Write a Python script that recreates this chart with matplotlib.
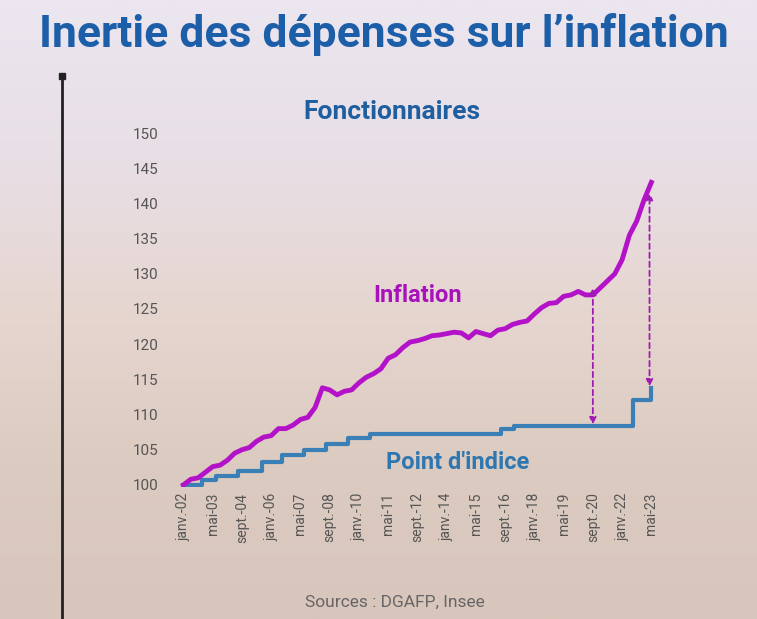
import matplotlib
matplotlib.use("Agg")
import matplotlib.pyplot as plt
import numpy as np
from matplotlib.colors import LinearSegmentedColormap

plt.rcParams['font.family'] = ['Roboto', 'DejaVu Sans']

tick_labels = ["janv.-02","mai-03","sept.-04","janv.-06","mai-07","sept.-08","janv.-10","mai-11",
               "sept.-12","janv.-14","mai-15","sept.-16","janv.-18","mai-19","sept.-20","janv.-22","mai-23"]
tick_months = [0,16,32,48,64,80,96,112,128,144,160,176,192,208,224,240,256]

# Inflation index, every 4 months from janv.-02
infl_months = list(range(0, 257, 4))
inflation = [100,100.8,101.0, 101.8,102.6,102.8, 103.5,104.5,105.0, 105.3,106.2,106.8,
             107.0,108.0,108.0, 108.5,109.3,109.6, 111.0,113.8,113.5, 112.8,113.3,113.5,
             114.5,115.3,115.8, 116.5,118.0,118.5, 119.5,120.3,120.5, 120.8,121.2,121.3,
             121.5,121.7,121.6, 120.9,121.8,121.5, 121.2,122.0,122.2, 122.8,123.1,123.3,
             124.3,125.2,125.8, 125.9,126.8,127.0, 127.5,127.0,127.0, 128.0,129.0,130.0,
             132.0,135.5,137.5, 140.5,143.0]

# Point d'indice (step changes)
pt_months = [0,10,18,30,43,54,66,78,90,102,174,181,246,256]
pt_values = [100.0,100.7,101.2,102.0,103.3,104.3,105.0,105.8,106.6,107.3,107.9,108.4,112.0,113.8]

gap_months = [224, 255]
gap_low = [108.6, 114.0]
gap_high = [128.0, 141.5]

fig = plt.figure(figsize=(7.57, 6.19), dpi=100)
bg = fig.add_axes([0, 0, 1, 1], zorder=-10)
grad = np.linspace(0, 1, 256)[:, None]
cmap = LinearSegmentedColormap.from_list("bg", ["#ece6f0", "#e8dfe6", "#e6d6d0", "#dccbc0", "#d8c6bc"])
bg.imshow(grad, aspect='auto', cmap=cmap, extent=[0, 1, 0, 1])
bg.set_axis_off()
bg.plot([62/757, 62/757], [0, 1-78/619], color='#222222', lw=2, transform=bg.transAxes)
bg.plot([62/757], [1-76/619], marker='s', color='#222222', ms=4, transform=bg.transAxes)
bg.set_xlim(0, 1); bg.set_ylim(0, 1)

ax = fig.add_axes([178/757, 1-487/619, (655-178)/757, (487-131)/619])
ax.patch.set_alpha(0)
ax.step(pt_months, pt_values, where='post', color='#3a7fb5', lw=3)
ax.plot(infl_months, inflation, color='#b312c8', lw=3.5)
for x, lo, hi in zip(gap_months, gap_low, gap_high):
    ax.annotate('', xy=(x, hi), xytext=(x, lo),
                arrowprops=dict(arrowstyle='<|-|>', color='#a01ab5', ls=(0, (3, 2)), lw=1.3,
                                mutation_scale=10, shrinkA=0, shrinkB=0))
ax.set_xlim(-3, 258)
ax.set_ylim(99.7, 150.3)
ax.set_yticks(range(100, 151, 5))
ax.set_xticks(tick_months)
ax.set_xticklabels(tick_labels, rotation=90, fontsize=10, color='#555555')
ax.tick_params(axis='y', labelsize=11, colors='#555555', length=0, pad=14)
ax.tick_params(axis='x', length=0, pad=4)
for s in ax.spines.values():
    s.set_visible(False)

ax.text(128, 126, 'Inflation', color='#a812bd', fontsize=17, fontweight='bold', ha='center')
ax.text(150, 102.3, "Point d'indice", color='#2f77b0', fontsize=17, fontweight='bold', ha='center')
fig.text(392/757, 1-112/619, 'Fonctionnaires', color='#1f5f9f', fontsize=19, fontweight='bold', ha='center', va='center')
fig.text(384/757, 1-34/619, "Inertie des dépenses sur l’inflation", color='#1d5ea8', fontsize=32,
         fontweight='bold', ha='center', va='center')
fig.text(395/757, 1-602/619, 'Sources : DGAFP, Insee', color='#666666', fontsize=12.5, ha='center', va='center')

fig.savefig('out.png', dpi=100)
